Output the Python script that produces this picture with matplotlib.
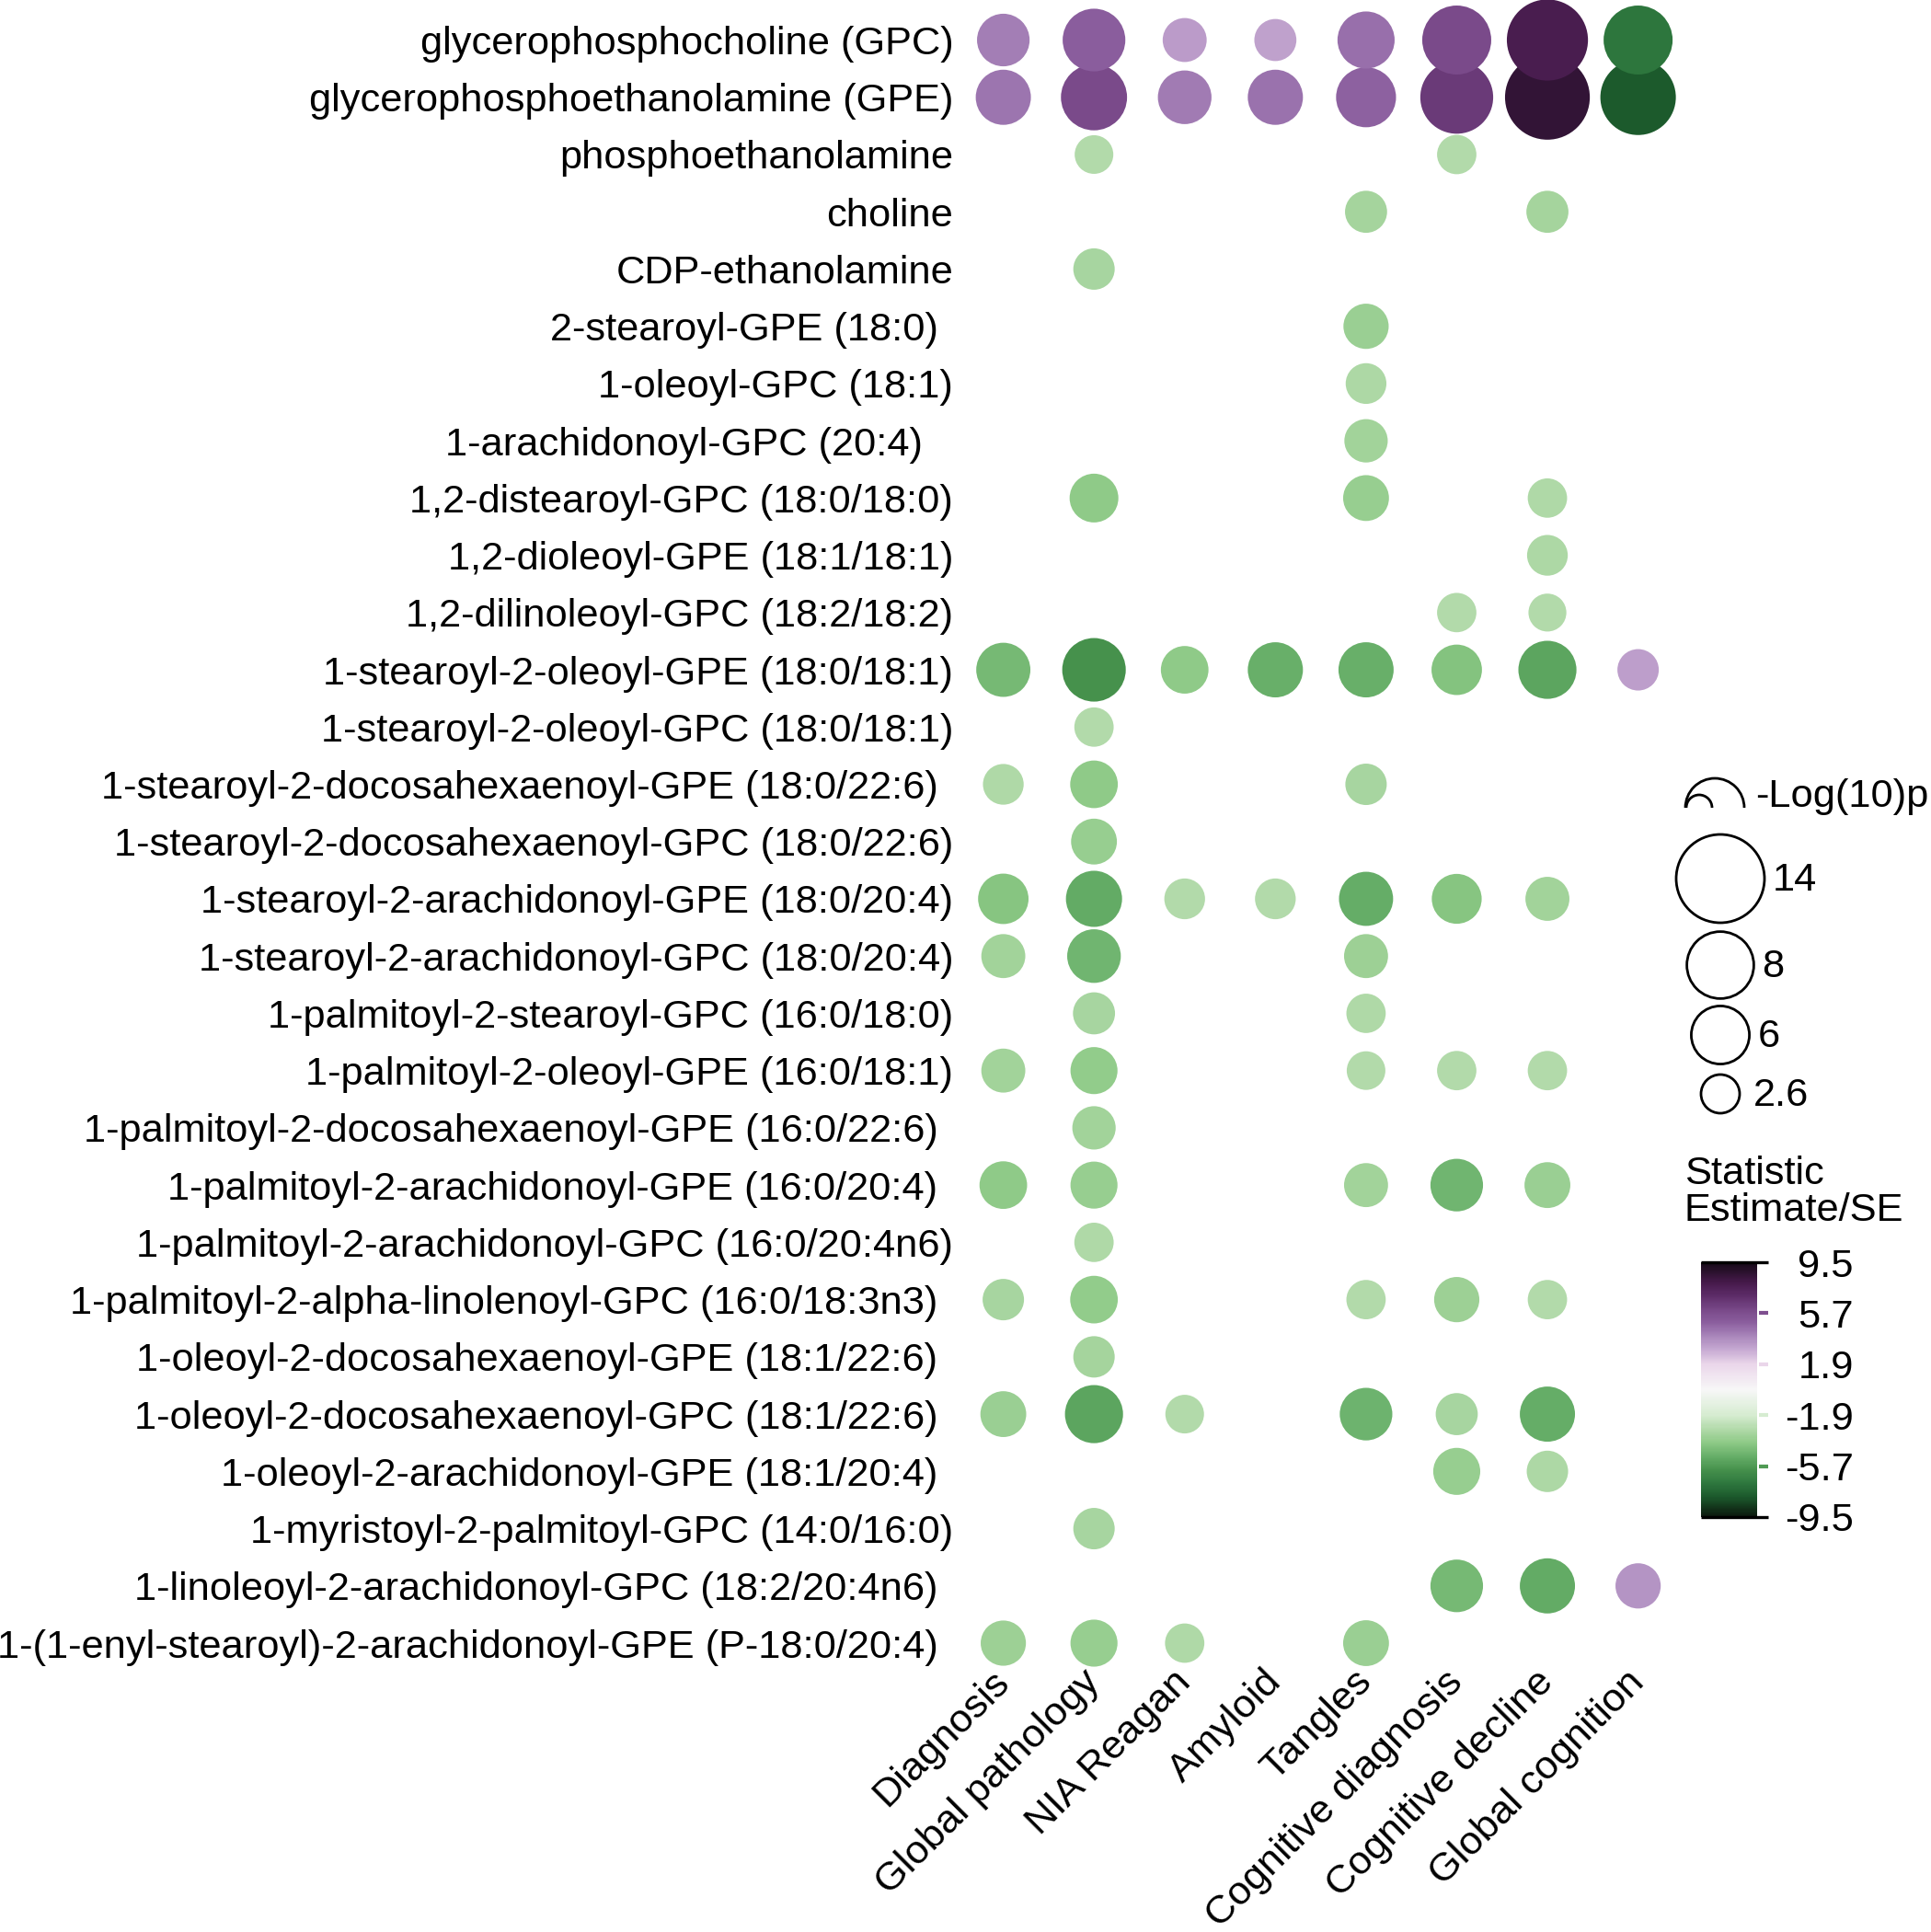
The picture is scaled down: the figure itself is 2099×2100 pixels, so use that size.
import matplotlib
matplotlib.use("Agg")
import matplotlib.pyplot as plt
from matplotlib.colors import LinearSegmentedColormap, Normalize
from matplotlib.patches import Arc
from matplotlib.transforms import ScaledTranslation, blended_transform_factory

plt.rcParams['font.family'] = ['Liberation Sans', 'DejaVu Sans']

# data
metabolites = [
    "glycerophosphocholine (GPC)",
    "glycerophosphoethanolamine (GPE)",
    "phosphoethanolamine",
    "choline",
    "CDP-ethanolamine",
    "2-stearoyl-GPE (18:0)",
    "1-oleoyl-GPC (18:1)",
    "1-arachidonoyl-GPC (20:4)",
    "1,2-distearoyl-GPC (18:0/18:0)",
    "1,2-dioleoyl-GPE (18:1/18:1)",
    "1,2-dilinoleoyl-GPC (18:2/18:2)",
    "1-stearoyl-2-oleoyl-GPE (18:0/18:1)",
    "1-stearoyl-2-oleoyl-GPC (18:0/18:1)",
    "1-stearoyl-2-docosahexaenoyl-GPE (18:0/22:6)",
    "1-stearoyl-2-docosahexaenoyl-GPC (18:0/22:6)",
    "1-stearoyl-2-arachidonoyl-GPE (18:0/20:4)",
    "1-stearoyl-2-arachidonoyl-GPC (18:0/20:4)",
    "1-palmitoyl-2-stearoyl-GPC (16:0/18:0)",
    "1-palmitoyl-2-oleoyl-GPE (16:0/18:1)",
    "1-palmitoyl-2-docosahexaenoyl-GPE (16:0/22:6)",
    "1-palmitoyl-2-arachidonoyl-GPE (16:0/20:4)",
    "1-palmitoyl-2-arachidonoyl-GPC (16:0/20:4n6)",
    "1-palmitoyl-2-alpha-linolenoyl-GPC (16:0/18:3n3)",
    "1-oleoyl-2-docosahexaenoyl-GPE (18:1/22:6)",
    "1-oleoyl-2-docosahexaenoyl-GPC (18:1/22:6)",
    "1-oleoyl-2-arachidonoyl-GPE (18:1/20:4)",
    "1-myristoyl-2-palmitoyl-GPC (14:0/16:0)",
    "1-linoleoyl-2-arachidonoyl-GPC (18:2/20:4n6)",
    "1-(1-enyl-stearoyl)-2-arachidonoyl-GPE (P-18:0/20:4)",
]

# some labels end a little short of the others in the original
label_gap = [0, 0, 0, 0, 0, 1, 0, 2, 0, 0, 0, 0, 0, 1, 0, 0, 0, 0, 0, 1,
             1, 0, 1, 1, 1, 1, 0, 1, 1]

outcomes = ["Diagnosis", "Global pathology", "NIA Reagan", "Amyloid", "Tangles",
            "Cognitive diagnosis", "Cognitive decline", "Global cognition"]

N = None
# Estimate/SE, one row per metabolite, columns follow outcomes
statistic = [
    [4.2, 5.1, 3.4, 3.2, 4.6, 5.9, 7.8, -7.0],
    [4.4, 5.9, 4.3, 4.5, 4.9, 6.5, 8.6, -8.0],
    [N, -2.9, N, N, N, -2.9, N, N],
    [N, N, N, N, -3.3, N, -3.3, N],
    [N, -3.2, N, N, N, N, N, N],
    [N, N, N, N, -3.6, N, N, N],
    [N, N, N, N, -3.1, N, N, N],
    [N, N, N, N, -3.4, N, N, N],
    [N, -3.9, N, N, -3.7, N, -3.0, N],
    [N, N, N, N, N, N, -3.1, N],
    [N, N, N, N, N, -2.9, -2.9, N],
    [-4.6, -6.0, -3.9, -4.9, -4.9, -4.2, -5.3, 3.3],
    [N, -2.9, N, N, N, N, N, N],
    [-3.0, -3.9, N, N, -3.2, N, N, N],
    [N, -3.7, N, N, N, N, N, N],
    [-4.1, -5.1, -2.9, -2.9, -5.0, -4.1, -3.4, N],
    [-3.4, -4.7, N, N, -3.5, N, N, N],
    [N, -3.2, N, N, -3.0, N, N, N],
    [-3.4, -3.8, N, N, -2.9, -2.9, -2.9, N],
    [N, -3.4, N, N, N, N, N, N],
    [-3.9, -3.7, N, N, -3.4, -4.7, -3.6, N],
    [N, -3.0, N, N, N, N, N, N],
    [-3.2, -3.8, N, N, -2.9, -3.5, -2.9, N],
    [N, -3.3, N, N, N, N, N, N],
    [-3.6, -5.3, -2.9, N, -4.8, -3.2, -5.0, N],
    [N, N, N, N, N, -3.7, -3.1, N],
    [N, -3.2, N, N, N, N, N, N],
    [N, N, N, N, N, -4.6, -5.1, 3.6],
    [-3.5, -3.7, -3.0, N, -3.6, N, N, N],
]

# -log10(p), same layout
neg_log10_p = [
    [4.9, 7.0, 3.4, 3.1, 5.8, 8.5, 11.8, 8.5],
    [5.4, 7.8, 5.1, 5.4, 6.4, 9.5, 12.9, 10.2],
    [N, 2.6, N, N, N, 2.7, N, N],
    [N, N, N, N, 3.1, N, 3.1, N],
    [N, 3.0, N, N, N, N, N, N],
    [N, N, N, N, 3.6, N, N, N],
    [N, N, N, N, 2.9, N, N, N],
    [N, N, N, N, 3.3, N, N, N],
    [N, 4.2, N, N, 3.7, N, 2.7, N],
    [N, N, N, N, N, N, 2.9, N],
    [N, N, N, N, N, 2.7, 2.5, N],
    [5.2, 7.2, 4.0, 5.4, 5.4, 4.5, 6.0, 3.0],
    [N, 2.7, N, N, N, N, N, N],
    [2.9, 4.0, N, N, 3.0, N, N, N],
    [N, 3.7, N, N, N, N, N, N],
    [4.5, 5.6, 2.9, 2.9, 5.2, 4.4, 3.4, N],
    [3.4, 5.1, N, N, 3.4, N, N, N],
    [N, 3.1, N, N, 2.7, N, N, N],
    [3.4, 3.9, N, N, 2.6, 2.7, 2.7, N],
    [N, 3.3, N, N, N, N, N, N],
    [4.0, 3.9, N, N, 3.4, 4.9, 3.7, N],
    [N, 2.7, N, N, N, N, N, N],
    [3.0, 4.0, N, N, 2.7, 3.6, 2.7, N],
    [N, 3.0, N, N, N, N, N, N],
    [3.7, 6.0, 2.6, N, 4.9, 3.1, 5.4, N],
    [N, N, N, N, N, 3.9, 3.0, N],
    [N, 3.0, N, N, N, N, N, N],
    [N, N, N, N, N, 4.9, 5.4, 3.6],
    [3.6, 3.9, 2.7, N, 3.7, N, N, N],
]

size_breaks = [14, 8, 6, 2.6]
cbar_ticks = [9.5, 5.7, 1.9, -1.9, -5.7, -9.5]
cbar_labels = ["9.5", "5.7", "1.9", "-1.9", "-5.7", "-9.5"]

# colour scale: green (negative) - white - purple (positive), dark ends
stops = [(-9.5, '#0b170d'), (-8.0, '#1c5a2c'), (-7.0, '#2e773e'), (-6.0, '#46914c'),
         (-5.0, '#66ae68'), (-4.0, '#8cc985'), (-3.0, '#b0d9a8'), (-1.9, '#d6ecd1'),
         (0.0, '#f7f7f7'), (1.9, '#ead6ea'), (3.0, '#c6a9d2'), (4.0, '#a986bb'),
         (5.0, '#8c5f9f'), (6.0, '#784888'), (7.0, '#5e2d69'), (8.0, '#461a4b'),
         (9.5, '#150a16')]
cmap = LinearSegmentedColormap.from_list(
    "prgn_dark", [((v + 9.5) / 19.0, c) for v, c in stops])
norm = Normalize(vmin=-9.5, vmax=9.5)

DPI = 200
FS = 15.6


def marker_area(v):
    # area grows linearly with -log10(p); result in points^2
    d_px2 = 64 + 653.7 * v
    return d_px2 * (72.0 / DPI) ** 2


fig = plt.figure(figsize=(2099 / DPI, 2100 / DPI), dpi=DPI)
ax = fig.add_axes([0.4961, 0.1347, 0.3757, 0.8594])

xs, ys, cs, ss = [], [], [], []
for i in reversed(range(len(metabolites))):
    for j in range(len(outcomes)):
        if statistic[i][j] is None:
            continue
        xs.append(j)
        ys.append(i)
        cs.append(statistic[i][j])
        ss.append(marker_area(neg_log10_p[i][j]))

sc = ax.scatter(xs, ys, c=cs, s=ss, cmap=cmap, norm=norm,
                linewidths=0, clip_on=False)

ax.set_xlim(-0.5, len(outcomes) - 0.5)
ax.set_ylim(len(metabolites) - 0.5, -0.5)
for sp in ax.spines.values():
    sp.set_visible(False)

ax.set_yticks(range(len(metabolites)))
ax.set_yticklabels(metabolites, fontsize=FS)
ax.tick_params(axis='y', length=0, pad=1.8)
for lbl, g in zip(ax.get_yticklabels(), label_gap):
    if g:
        lbl.set_transform(lbl.get_transform() +
                          ScaledTranslation(-g * 16.8 / DPI, 0, fig.dpi_scale_trans))

ax.set_xticks(range(len(outcomes)))
ax.set_xticklabels(outcomes, fontsize=FS, rotation=45, ha='right', va='top',
                   rotation_mode='anchor')
ax.tick_params(axis='x', length=0, pad=0)
for lbl in ax.get_xticklabels():
    lbl.set_transform(lbl.get_transform() +
                      ScaledTranslation(-14 / DPI, 9 / DPI, fig.dpi_scale_trans))

# legends, placed in pixel coordinates
lax = fig.add_axes([0, 0, 1, 1])
lax.set_xlim(0, 2099)
lax.set_ylim(2100, 0)
lax.axis('off')
lax.patch.set_alpha(0)

lax.add_patch(Arc((1864, 878), 64, 64, theta1=180, theta2=360, color='black', lw=1.0))
lax.add_patch(Arc((1847, 878), 28, 28, theta1=180, theta2=360, color='black', lw=1.0))
lax.text(1908, 866, "-Log(10)p", fontsize=FS, va='center', ha='left')

key_y = [955, 1049, 1125, 1189]
for v, y in zip(size_breaks, key_y):
    lax.scatter([1870], [y], s=marker_area(v), facecolors='none',
                edgecolors='black', linewidths=1.0)
    r = (64 + 653.7 * v) ** 0.5 / 2
    lax.text(1870 + max(r, 27) + 9, y + 2, f"{v:g}", fontsize=FS, va='center', ha='left')

lax.text(1831, 1256, "Statistic\nEstimate/SE", fontsize=FS, va='top', ha='left',
         linespacing=1.0)

cax = fig.add_axes([1849 / 2099, 1 - 1649 / 2100, 61 / 2099, 277 / 2100])
cb = fig.colorbar(sc, cax=cax, ticks=cbar_ticks)
cb.outline.set_visible(False)
cax.set_yticklabels(cbar_labels, fontsize=FS, ha='right')
cax.tick_params(length=0, pad=37.8)
trans = blended_transform_factory(cax.transAxes, cax.transData)
for t in cbar_ticks:
    if abs(t) == 9.5:
        cax.plot([0, 1.2], [t, t], color='black', lw=1.2, transform=trans,
                 clip_on=False, solid_capstyle='butt')
    else:
        cax.plot([1.03, 1.2], [t, t], color=cmap(norm(t)), lw=1.5, transform=trans,
                 clip_on=False, solid_capstyle='butt')

fig.savefig("out.png", dpi=DPI, facecolor='white')
